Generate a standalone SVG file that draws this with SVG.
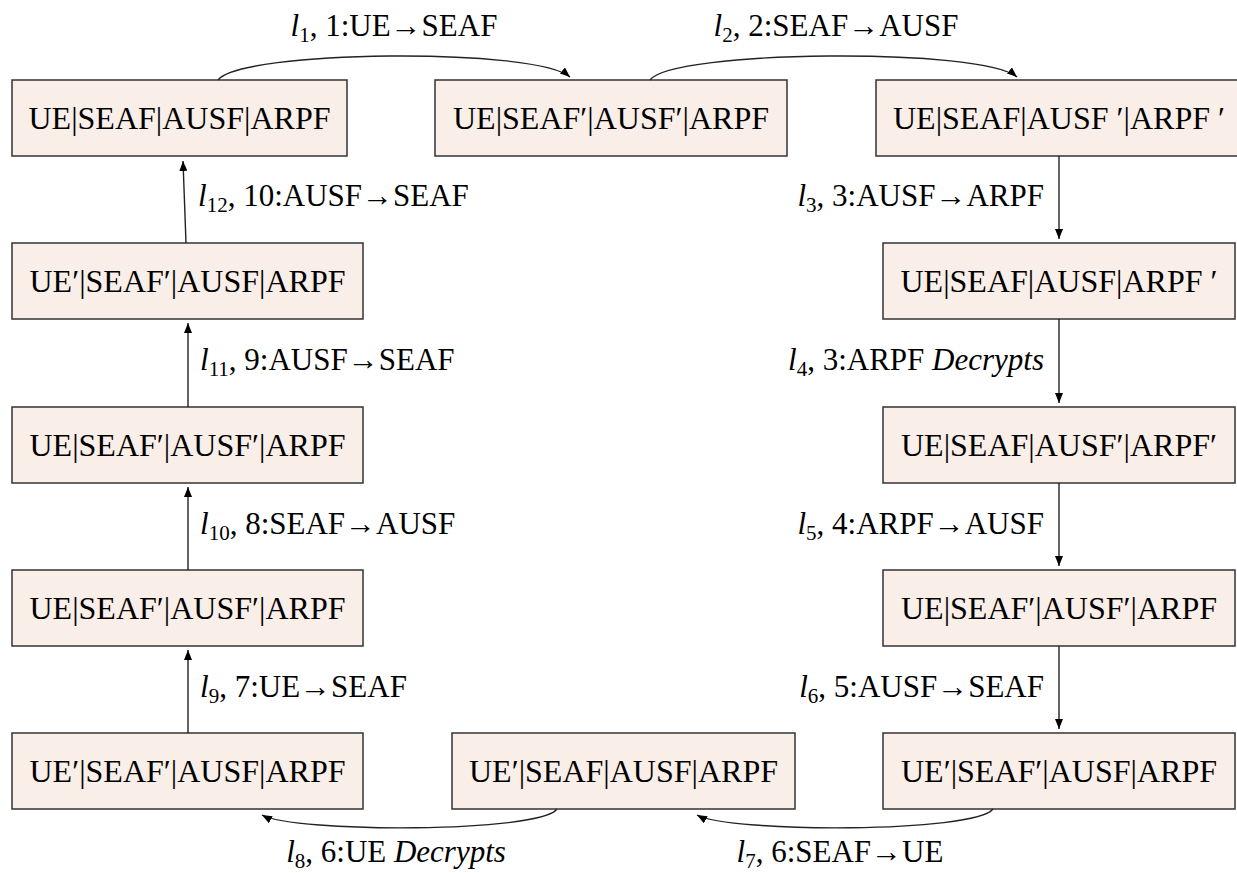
<svg xmlns="http://www.w3.org/2000/svg" width="1237" height="873" viewBox="0 0 1237 873">
<style>
.box{fill:#faeee9;stroke:#333;stroke-width:1.5}
.nt{font-family:"Liberation Serif","DejaVu Serif",serif;font-size:32px;fill:#000;text-anchor:middle}
.lb{font-family:"Liberation Serif","DejaVu Serif",serif;font-size:31px;fill:#000}
.it{font-style:italic}
.sub{font-size:21px}
.c{fill:none;stroke:#222;stroke-width:1.4}
</style>
<defs>
<marker id="ah" markerUnits="userSpaceOnUse" markerWidth="11" markerHeight="8" refX="10" refY="4" orient="auto">
<path d="M0,0 L10,4 L0,8 z" fill="#000"/>
</marker>
</defs>
<rect width="1237" height="873" fill="#fff"/>
<g id="n1"><rect class="box" x="12" y="80" width="335" height="76"/><text class="nt" x="179.5" y="129">UE|SEAF|AUSF|ARPF</text></g>
<g id="n2"><rect class="box" x="435" y="80" width="352" height="76"/><text class="nt" x="611" y="129">UE|SEAF′|AUSF′|ARPF</text></g>
<g id="n3"><rect class="box" x="876" y="80" width="368" height="76"/><text class="nt" x="1059" y="129">UE|SEAF|AUSF ′|ARPF ′</text></g>
<g id="n4"><rect class="box" x="883" y="243" width="352" height="76"/><text class="nt" x="1059" y="292">UE|SEAF|AUSF|ARPF ′</text></g>
<g id="n5"><rect class="box" x="883" y="407" width="352" height="76"/><text class="nt" x="1059" y="456">UE|SEAF|AUSF′|ARPF′</text></g>
<g id="n6"><rect class="box" x="883" y="570" width="352" height="76"/><text class="nt" x="1059" y="619">UE|SEAF′|AUSF′|ARPF</text></g>
<g id="n7"><rect class="box" x="883" y="733" width="352" height="76"/><text class="nt" x="1059" y="782">UE′|SEAF′|AUSF|ARPF</text></g>
<g id="n8"><rect class="box" x="452" y="733" width="343" height="76"/><text class="nt" x="623.5" y="782">UE′|SEAF|AUSF|ARPF</text></g>
<g id="n9"><rect class="box" x="12" y="733" width="351" height="76"/><text class="nt" x="187.5" y="782">UE′|SEAF′|AUSF|ARPF</text></g>
<g id="n10"><rect class="box" x="12" y="570" width="351" height="76"/><text class="nt" x="187.5" y="619">UE|SEAF′|AUSF′|ARPF</text></g>
<g id="n11"><rect class="box" x="12" y="407" width="351" height="76"/><text class="nt" x="187.5" y="456">UE|SEAF′|AUSF′|ARPF</text></g>
<g id="n12"><rect class="box" x="12" y="243" width="351" height="76"/><text class="nt" x="187.5" y="292">UE′|SEAF′|AUSF|ARPF</text></g>
<g id="connectors">
<path class="c" marker-end="url(#ah)" d="M218,80 C240,50 535,47 570,77"/>
<path class="c" marker-end="url(#ah)" d="M650,80 C672,50 982,47 1017,77"/>
<path class="c" marker-end="url(#ah)" d="M1059,156 L1059,239"/>
<path class="c" marker-end="url(#ah)" d="M1059,319 L1059,403"/>
<path class="c" marker-end="url(#ah)" d="M1059,483 L1059,566"/>
<path class="c" marker-end="url(#ah)" d="M1059,646 L1059,729"/>
<path class="c" marker-end="url(#ah)" d="M993,809 C975,833 730,833 697,815"/>
<path class="c" marker-end="url(#ah)" d="M557,809 C540,833 295,833 262,815"/>
<path class="c" marker-end="url(#ah)" d="M188,733 L188,650"/>
<path class="c" marker-end="url(#ah)" d="M188,570 L188,487"/>
<path class="c" marker-end="url(#ah)" d="M188,407 L188,323"/>
<path class="c" marker-end="url(#ah)" d="M186,243 L183,161"/>
</g>
<g id="labels">
<text class="lb" x="394" y="36" text-anchor="middle"><tspan class="it">l</tspan><tspan class="sub" dy="6">1</tspan><tspan dy="-6">, 1:UE→SEAF</tspan></text>
<text class="lb" x="836" y="36" text-anchor="middle"><tspan class="it">l</tspan><tspan class="sub" dy="6">2</tspan><tspan dy="-6">, 2:SEAF→AUSF</tspan></text>
<text class="lb" x="1044" y="206" text-anchor="end"><tspan class="it">l</tspan><tspan class="sub" dy="6">3</tspan><tspan dy="-6">, 3:AUSF→ARPF</tspan></text>
<text class="lb" x="1044" y="370" text-anchor="end"><tspan class="it">l</tspan><tspan class="sub" dy="6">4</tspan><tspan dy="-6">, 3:ARPF </tspan><tspan class="it">Decrypts</tspan></text>
<text class="lb" x="1044" y="534" text-anchor="end"><tspan class="it">l</tspan><tspan class="sub" dy="6">5</tspan><tspan dy="-6">, 4:ARPF→AUSF</tspan></text>
<text class="lb" x="1044" y="697" text-anchor="end"><tspan class="it">l</tspan><tspan class="sub" dy="6">6</tspan><tspan dy="-6">, 5:AUSF→SEAF</tspan></text>
<text class="lb" x="840" y="862" text-anchor="middle"><tspan class="it">l</tspan><tspan class="sub" dy="6">7</tspan><tspan dy="-6">, 6:SEAF→UE</tspan></text>
<text class="lb" x="396" y="862" text-anchor="middle"><tspan class="it">l</tspan><tspan class="sub" dy="6">8</tspan><tspan dy="-6">, 6:UE </tspan><tspan class="it">Decrypts</tspan></text>
<text class="lb" x="200" y="697"><tspan class="it">l</tspan><tspan class="sub" dy="6">9</tspan><tspan dy="-6">, 7:UE→SEAF</tspan></text>
<text class="lb" x="200" y="534"><tspan class="it">l</tspan><tspan class="sub" dy="6">10</tspan><tspan dy="-6">, 8:SEAF→AUSF</tspan></text>
<text class="lb" x="200" y="370"><tspan class="it">l</tspan><tspan class="sub" dy="6">11</tspan><tspan dy="-6">, 9:AUSF→SEAF</tspan></text>
<text class="lb" x="198" y="206"><tspan class="it">l</tspan><tspan class="sub" dy="6">12</tspan><tspan dy="-6">, 10:AUSF→SEAF</tspan></text>
</g>
</svg>
